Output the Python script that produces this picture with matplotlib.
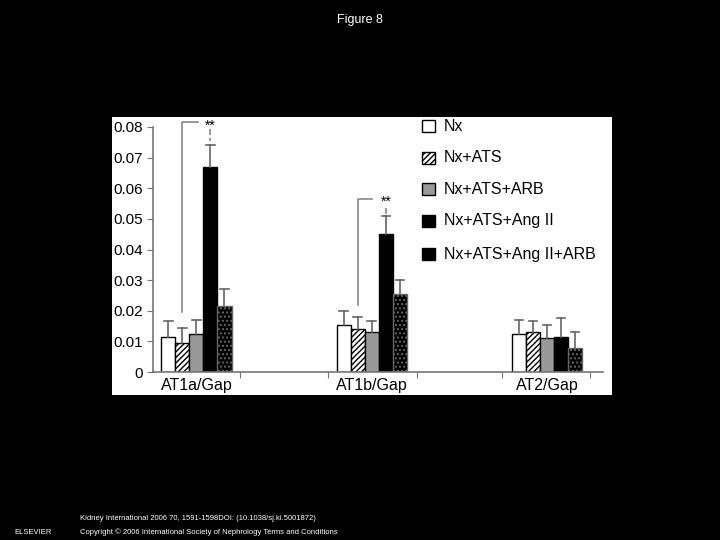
import matplotlib
matplotlib.use("Agg")
import matplotlib.pyplot as plt
from matplotlib.patches import Rectangle
import numpy as np

plt.rcParams['font.family'] = ['Liberation Sans', 'DejaVu Sans']

groups = ["AT1a/Gap", "AT1b/Gap", "AT2/Gap"]
series = ["Nx", "Nx+ATS", "Nx+ATS+ARB", "Nx+ATS+Ang II", "Nx+ATS+Ang II+ARB"]
means = [[0.0115, 0.0095, 0.0125, 0.067, 0.0215],
         [0.0155, 0.0140, 0.0130, 0.045, 0.0255],
         [0.0125, 0.0130, 0.0110, 0.0115, 0.0080]]
err_top = [[0.0165, 0.0145, 0.0170, 0.074, 0.027],
           [0.0200, 0.0180, 0.0165, 0.051, 0.030],
           [0.0170, 0.0165, 0.0155, 0.0175, 0.013]]
yticks = [0, 0.01, 0.02, 0.03, 0.04, 0.05, 0.06, 0.07, 0.08]
ytick_labels = ["0", "0.01", "0.02", "0.03", "0.04", "0.05", "0.06", "0.07", "0.08"]

faces = ["white", "white", "#999999", "black", "black"]
hatches = [None, "//////", None, None, "...."]
hatch_edge = ["black", "black", "black", "black", "#666666"]

W, H = 720, 540
fig = plt.figure(figsize=(7.2, 5.4), dpi=100, facecolor="black")
def fx(x): return x / W
def fy(y): return 1 - y / H

fig.add_artist(Rectangle((fx(112), fy(395)), 500 / W, 278 / H, transform=fig.transFigure,
                         facecolor="white", edgecolor="none", zorder=0))
fig.text(0.5, fy(20), "Figure 8", color="white", ha="center", va="center", fontsize=9)
fig.text(fx(80), fy(518), "Kidney International 2006 70, 1591-1598DOI: (10.1038/sj.ki.5001872)",
         color="white", fontsize=5.5, va="center")
fig.text(fx(80), fy(532), "Copyright © 2006 International Society of Nephrology Terms and Conditions",
         color="white", fontsize=5.5, va="center")
fig.text(fx(33), fy(533), "ELSEVIER", color="white", fontsize=5.5, ha="center", va="center")

ax = fig.add_axes([fx(153), fy(372), 450 / W, 245 / H])
ax.set_facecolor("white")
ax.set_xlim(0, 32.1)
ax.set_ylim(0, 0.08)
centers = [3.1, 15.6, 28.1]
for g, c in enumerate(centers):
    for i in range(5):
        x = c + (i - 2) * 1.0
        ax.bar(x, means[g][i], width=1.0, color=faces[i], edgecolor=hatch_edge[i],
               hatch=hatches[i], linewidth=1.0, zorder=2)
        ax.plot([x, x], [means[g][i], err_top[g][i]], color="#666666", lw=1.2, zorder=3)
        ax.plot([x - 0.3, x + 0.3], [err_top[g][i]] * 2, color="#666666", lw=1.2, zorder=3)

# significance brackets
b = dict(color="#888888", lw=1.2, clip_on=False)
ax.plot([2.1, 2.1, 3.2], [0.0195, 0.0815, 0.0815], **b)
ax.text(4.1, 0.0805, "**", ha="center", va="center", fontsize=10)
ax.plot([4.1, 4.1], [0.0795, 0.0755], color="#888888", lw=1.2, ls="--", clip_on=False)
ax.plot([14.6, 14.6, 15.6], [0.022, 0.0565, 0.0565], **b)
ax.text(16.6, 0.0555, "**", ha="center", va="center", fontsize=10)
ax.plot([16.6, 16.6], [0.0535, 0.0515], color="#888888", lw=1.2, ls="--", clip_on=False)

for s in ["top", "right"]:
    ax.spines[s].set_visible(False)
for s in ["left", "bottom"]:
    ax.spines[s].set_color("#777777")
    ax.spines[s].set_linewidth(1.2)
ax.set_yticks(yticks)
ax.set_yticklabels(ytick_labels, fontsize=11)
ax.set_xticks([6.2, 12.5, 18.8, 24.9, 31.2])
ax.set_xticklabels([])
ax.tick_params(colors="#777777", labelcolor="black", length=4)
for c, g in zip(centers, groups):
    ax.text(c, -0.0045, g, ha="center", va="center", fontsize=11.5)

# legend
rows = [126, 158, 189, 221, 254]
for i, (s, y) in enumerate(zip(series, rows)):
    fig.add_artist(Rectangle((fx(422), fy(y + 6)), 13 / W, 12 / H, transform=fig.transFigure,
                             facecolor=faces[i], edgecolor=hatch_edge[i] if i != 4 else "black",
                             hatch=hatches[i], lw=1.0))
    fig.text(fx(444), fy(y), s, fontsize=11.5, va="center")

fig.savefig("out.png", dpi=100, facecolor="black")
